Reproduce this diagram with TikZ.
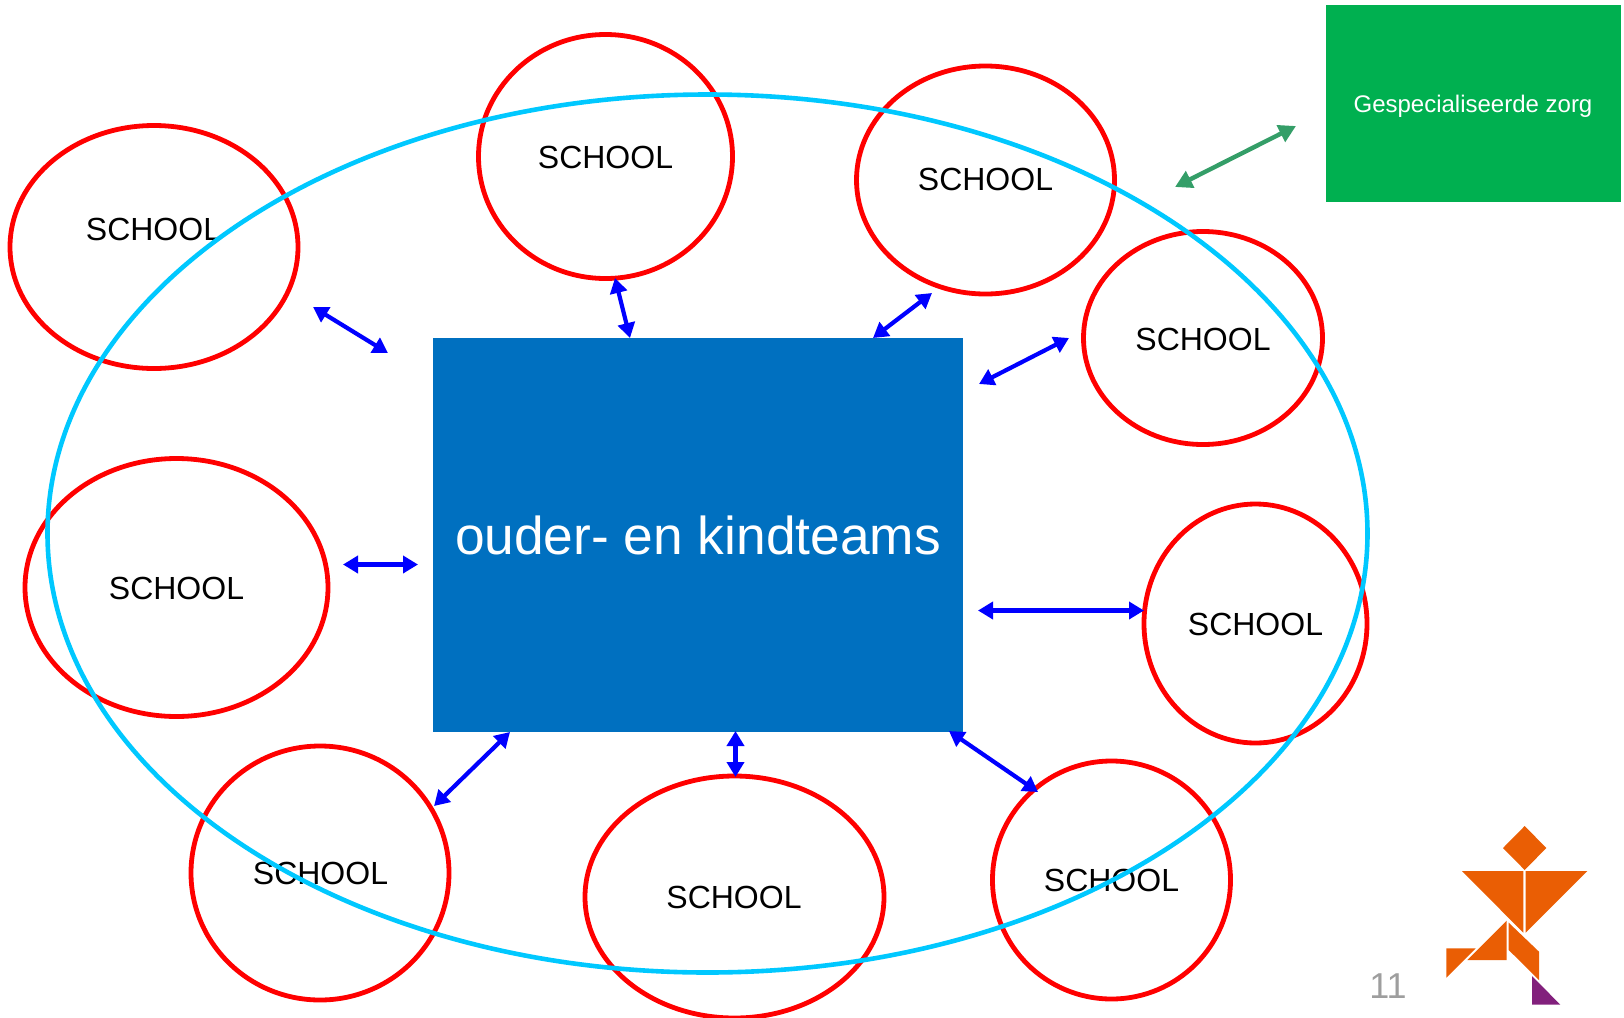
\documentclass[tikz,border=0pt]{standalone}
\usepackage{fontspec}
\setmainfont{Liberation Sans}
\usetikzlibrary{shapes.geometric,arrows.meta}
\definecolor{redring}{RGB}{255,0,0}
\definecolor{cyanring}{RGB}{0,200,255}
\definecolor{teamblue}{RGB}{0,112,192}
\definecolor{linkblue}{RGB}{0,0,255}
\definecolor{zorggreen}{RGB}{0,176,80}
\definecolor{linkgreen}{RGB}{52,158,104}
\definecolor{logoorange}{RGB}{234,94,4}
\definecolor{logopurple}{RGB}{130,32,124}
\tikzset{
  ring/.style={shape=ellipse,draw=redring,line width=2.4pt,inner sep=0pt,outer sep=0pt},
  schooltext/.style={font=\fontsize{16}{18}\selectfont,text=black,inner sep=0pt},
  link/.style={draw=linkblue,line width=2.1pt,{Triangle[length=7.5pt,width=8.5pt]}-{Triangle[length=7.5pt,width=8.5pt]}},
  greenlink/.style={draw=linkgreen,line width=2.2pt,{Triangle[length=8.5pt,width=9pt]}-{Triangle[length=8.5pt,width=9pt]}},
  tangram/.style={fill=logoorange,draw=none},
}
\begin{document}
\begin{tikzpicture}[x=0.5pt,y=-0.5pt]
\useasboundingbox (0,0) rectangle (1624,1018);
\begin{scope}
\clip (0,0) rectangle (1624,1018);
% school rings
\node[ring,minimum width=144pt,minimum height=121.5pt] (r1) at (154,247) {};
\node[ring,minimum width=127pt,minimum height=122pt] (r2) at (605.5,156.5) {};
\node[ring,minimum width=129pt,minimum height=114pt] (r3) at (985.5,180) {};
\node[ring,minimum width=119.5pt,minimum height=106.5pt] (r4) at (1203,338) {};
\node[ring,minimum width=111.5pt,minimum height=119.5pt] (r5) at (1255.5,623.5) {};
\node[ring,minimum width=119pt,minimum height=119pt] (r6) at (1111.5,880) {};
\node[ring,minimum width=149.5pt,minimum height=121pt] (r7) at (734.5,897) {};
\node[ring,minimum width=129pt,minimum height=127pt] (r8) at (320,873) {};
\node[ring,minimum width=151.5pt,minimum height=129pt] (r9) at (176.5,587.5) {};
% school labels
\node[schooltext] (s1) at (153.5,229) {SCHOOL};
\node[schooltext] (s2) at (605.5,157.5) {SCHOOL};
\node[schooltext] (s3) at (985.5,179.5) {SCHOOL};
\node[schooltext] (s4) at (1203,339) {SCHOOL};
\node[schooltext] (s5) at (1255.5,624) {SCHOOL};
\node[schooltext] (s6) at (1111.5,880.5) {SCHOOL};
\node[schooltext] (s7) at (734,897.5) {SCHOOL};
\node[schooltext] (s8) at (320.5,873.5) {SCHOOL};
\node[schooltext] (s9) at (176.5,588.5) {SCHOOL};
% big ring
\node[shape=ellipse,draw=cyanring,line width=2.3pt,inner sep=0pt,outer sep=0pt,minimum width=660pt,minimum height=439pt] (big) at (707.5,533.5) {};
\end{scope}
% central team box
\node[fill=teamblue,inner sep=0pt,outer sep=0pt,minimum width=265pt,minimum height=197pt] (team) at (698,535) {};
\node[text=white,inner sep=0pt,font=\fontsize{26.65}{30}\selectfont] (teamlabel) at (698,535.5) {ouder- en kindteams};
% green box
\node[fill=zorggreen,inner sep=0pt,outer sep=0pt,minimum width=147.5pt,minimum height=98.5pt] (zorg) at (1473.5,103.5) {};
\node[text=white,inner sep=0pt,font=\fontsize{12}{14}\selectfont] (zorglabel) at (1473,106) {Gespecialiseerde zorg};
% connector ends
\coordinate (a1) at (313,307); \coordinate (a2) at (388,353);
\coordinate (b1) at (615,278); \coordinate (b2) at (630,338);
\coordinate (c1) at (873,338); \coordinate (c2) at (932,293);
\coordinate (d1) at (979,384); \coordinate (d2) at (1069,338);
\coordinate (e1) at (343,564.5); \coordinate (e2) at (418,564.5);
\coordinate (f1) at (978,610.5); \coordinate (f2) at (1144,610.5);
\coordinate (g1) at (434,806); \coordinate (g2) at (510,732);
\coordinate (h1) at (735.5,731); \coordinate (h2) at (735.5,777);
\coordinate (i1) at (949,731); \coordinate (i2) at (1038,792);
\coordinate (z1) at (1175,187); \coordinate (z2) at (1296,126);
\draw[link] (a1) -- (a2);
\draw[link] (b1) -- (b2);
\draw[link] (c1) -- (c2);
\draw[link] (d1) -- (d2);
\draw[link] (e1) -- (e2);
\draw[link] (f1) -- (f2);
\draw[link] (g1) -- (g2);
\draw[link] (h1) -- (h2);
\draw[link] (i1) -- (i2);
\draw[greenlink] (z1) -- (z2);
% page number
\node[text=black!38,inner sep=0pt,font=\fontsize{18}{22}\selectfont] (page) at (1388,986) {11};
% tangram figure
\fill[tangram] (1524.7,826) -- (1546.3,848) -- (1524.7,870) -- (1503,848) -- cycle;
\fill[tangram] (1462,871) -- (1523.3,871) -- (1523.3,932.7) -- cycle;
\fill[tangram] (1525.7,871) -- (1587.3,871) -- (1525.7,932.7) -- cycle;
\fill[tangram] (1506.7,920.7) -- (1506.7,960) -- (1467.3,960) -- cycle;
\fill[tangram] (1508.7,922.7) -- (1539,951.7) -- (1539,980) -- (1508.7,950) -- cycle;
\fill[tangram] (1446.3,948.3) -- (1475.7,948.3) -- (1446.3,977.7) -- cycle;
\fill[logopurple] (1532,976) -- (1560.3,1004.7) -- (1532,1004.7) -- cycle;
\end{tikzpicture}
\end{document}
